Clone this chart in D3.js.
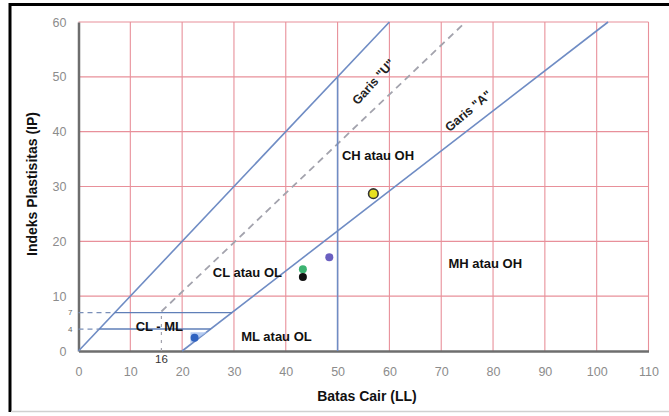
<!DOCTYPE html>
<html><head><meta charset="utf-8">
<script src="https://cdn.jsdelivr.net/npm/d3@7"></script>
<style>
html,body{margin:0;padding:0;background:#fff;}
svg{display:block;font-family:"Liberation Sans",Arial,sans-serif;}
</style></head>
<body>
<svg id="chart" width="669" height="416"></svg>
<script>
// ---- data ----
const xTicks = [0,10,20,30,40,50,60,70,80,90,100,110];
const yTicks = [0,10,20,30,40,50,60];
const lineSolidDiag = [[0,0],[60,60]];
const lineU = [[16,7.2],[74.7,60]];
const lineA = [[20,0],[102.2,60]];
const lineLL50 = [[50,0],[50,50]];
const hLine7 = [[7,7],[29.6,7]];
const hLine7Dash = [[0,7],[7,7]];
const hLine4 = [[4,4],[25.5,4]];
const hLine4Dash = [[0,4],[4,4]];
const vLine16Dash = [[16,0],[16,7]];
const sampleLL = [22.4, 43.3, 43.3, 48.4, 56.9];
const sampleIP = [2.4, 14.9, 13.5, 17.1, 28.7];
const sampleColors = ["#2f62c0", "#3cb371", "#111111", "#6a5fc0", "#e8e020"];
const zoneLabels = ["CL atau OL","ML atau OL","CL - ML","CH atau OH","MH atau OH"];
const zoneLL = [32.6, 38.2, 15.6, 57.8, 78.5];
const zoneIP = [14.4, 2.7, 4.4, 35.6, 16.0];
const lineLabels = ['Garis "U"', 'Garis "A"'];
const lineLabelLL = [56.9, 75.2];
const lineLabelIP = [49.1, 43.8];
const lineLabelAngle = [-48, -40];

// ---- layout ----
const svg = d3.select("#chart");
const x = d3.scaleLinear().domain([0,110]).range([78.5,648.5]);
const y = d3.scaleLinear().domain([0,60]).range([351,22]);

// frame
svg.append("line").attr("x1",10).attr("x2",10).attr("y1",3).attr("y2",412).attr("stroke","#000").attr("stroke-width",3);
svg.append("line").attr("x1",9).attr("x2",669).attr("y1",4.5).attr("y2",4.5).attr("stroke","#000").attr("stroke-width",3);
svg.append("line").attr("x1",11).attr("x2",669).attr("y1",411.5).attr("y2",411.5).attr("stroke","#d0d0d0").attr("stroke-width",1.5);

// grid
const grid = svg.append("g");
grid.selectAll(".gx").data(xTicks.filter(d=>d>0)).join("line")
  .attr("x1",d=>x(d)).attr("x2",d=>x(d)).attr("y1",y(0)).attr("y2",y(60))
  .attr("stroke","#e8909a").attr("stroke-width",1.1);
grid.selectAll(".gy").data(yTicks.filter(d=>d>0)).join("line")
  .attr("x1",x(0)).attr("x2",x(110)).attr("y1",d=>y(d)).attr("y2",d=>y(d))
  .attr("stroke","#e8909a").attr("stroke-width",1.1);

// axes
const xAxis = svg.append("g").attr("transform",`translate(0,${y(0)})`)
  .call(d3.axisBottom(x).tickValues(xTicks).tickSize(0).tickPadding(16));
xAxis.select(".domain").attr("stroke","#6e6e6e").attr("stroke-width",2.5);
xAxis.selectAll("text").attr("fill","#8c8c8c").attr("font-size",12.5);
const yAxis = svg.append("g").attr("transform",`translate(${x(0)},0)`)
  .call(d3.axisLeft(y).tickValues(yTicks).tickSize(0).tickPadding(12));
yAxis.select(".domain").attr("stroke","#6e6e6e").attr("stroke-width",2.5);
yAxis.selectAll("text").attr("fill","#8c8c8c").attr("font-size",12.5);

const line = d3.line().x(d=>x(d[0])).y(d=>y(d[1]));
const blue = "#6f8cc4";
const addPath = (data, color, w, dash) => {
  const p = svg.append("path").datum(data).attr("d",line).attr("fill","none")
    .attr("stroke",color).attr("stroke-width",w);
  if (dash) p.attr("stroke-dasharray",dash);
};
addPath(lineSolidDiag, blue, 1.6);
addPath(lineU, "#a3a3ad", 1.8, "7,5");
addPath(lineA, blue, 1.6);
addPath(lineLL50, blue, 1.6);
addPath(hLine7, "#5f7fb8", 1.4);
addPath(hLine7Dash, "#7a8fb8", 1.2, "5,4");
addPath(hLine4, "#5f7fb8", 1.4);
addPath(hLine4Dash, "#7a8fb8", 1.2, "5,4");
addPath(vLine16Dash, "#a3a3ad", 1.2, "3,5");

// small labels
svg.append("text").attr("x",x(0)-6).attr("y",y(7)).attr("dy","0.35em").attr("text-anchor","end")
  .attr("font-size",8).attr("fill","#666").text("7");
svg.append("text").attr("x",x(0)-6).attr("y",y(4)).attr("dy","0.35em").attr("text-anchor","end")
  .attr("font-size",8).attr("fill","#666").text("4");
svg.append("text").attr("x",x(16)).attr("y",y(0)+8).attr("dy","0.35em").attr("text-anchor","middle")
  .attr("font-size",11.5).attr("fill","#333").text("16");

// sample points
svg.append("path").attr("d",`M${x(21.6)},${y(3.4)} L${x(24.8)},${y(3.4)} L${x(21.6)},${y(1.4)} Z`)
  .attr("fill","#a9c3ee").attr("opacity",0.85);
svg.selectAll(".pt").data(sampleLL).join("circle")
  .attr("cx",d=>x(d)).attr("cy",(d,i)=>y(sampleIP[i]))
  .attr("r",(d,i)=>i===4?4.8:4)
  .attr("fill",(d,i)=>sampleColors[i])
  .attr("stroke",(d,i)=>i===4?"#333":"none").attr("stroke-width",1.6);

// zone labels
svg.selectAll(".zl").data(zoneLabels).join("text")
  .attr("x",(d,i)=>x(zoneLL[i])).attr("y",(d,i)=>y(zoneIP[i])).attr("dy","0.35em")
  .attr("text-anchor","middle").attr("font-size",13).attr("font-weight","bold")
  .attr("fill","#111").text(d=>d);

// line labels
svg.selectAll(".ll").data(lineLabels).join("text")
  .attr("transform",(d,i)=>`translate(${x(lineLabelLL[i])},${y(lineLabelIP[i])}) rotate(${lineLabelAngle[i]})`)
  .attr("dy","0.35em").attr("text-anchor","middle").attr("font-size",12.5).attr("font-weight","bold")
  .attr("fill","#222").text(d=>d);

// axis titles
svg.append("text").attr("x",367).attr("y",396).attr("dy","0.35em").attr("text-anchor","middle")
  .attr("font-size",14).attr("font-weight","bold").attr("fill","#111").text("Batas Cair (LL)");
svg.append("text").attr("transform","translate(32,184) rotate(-90)").attr("dy","0.35em")
  .attr("text-anchor","middle").attr("font-size",14).attr("font-weight","bold").attr("fill","#111")
  .text("Indeks Plastisitas (IP)");
</script>
</body></html>
